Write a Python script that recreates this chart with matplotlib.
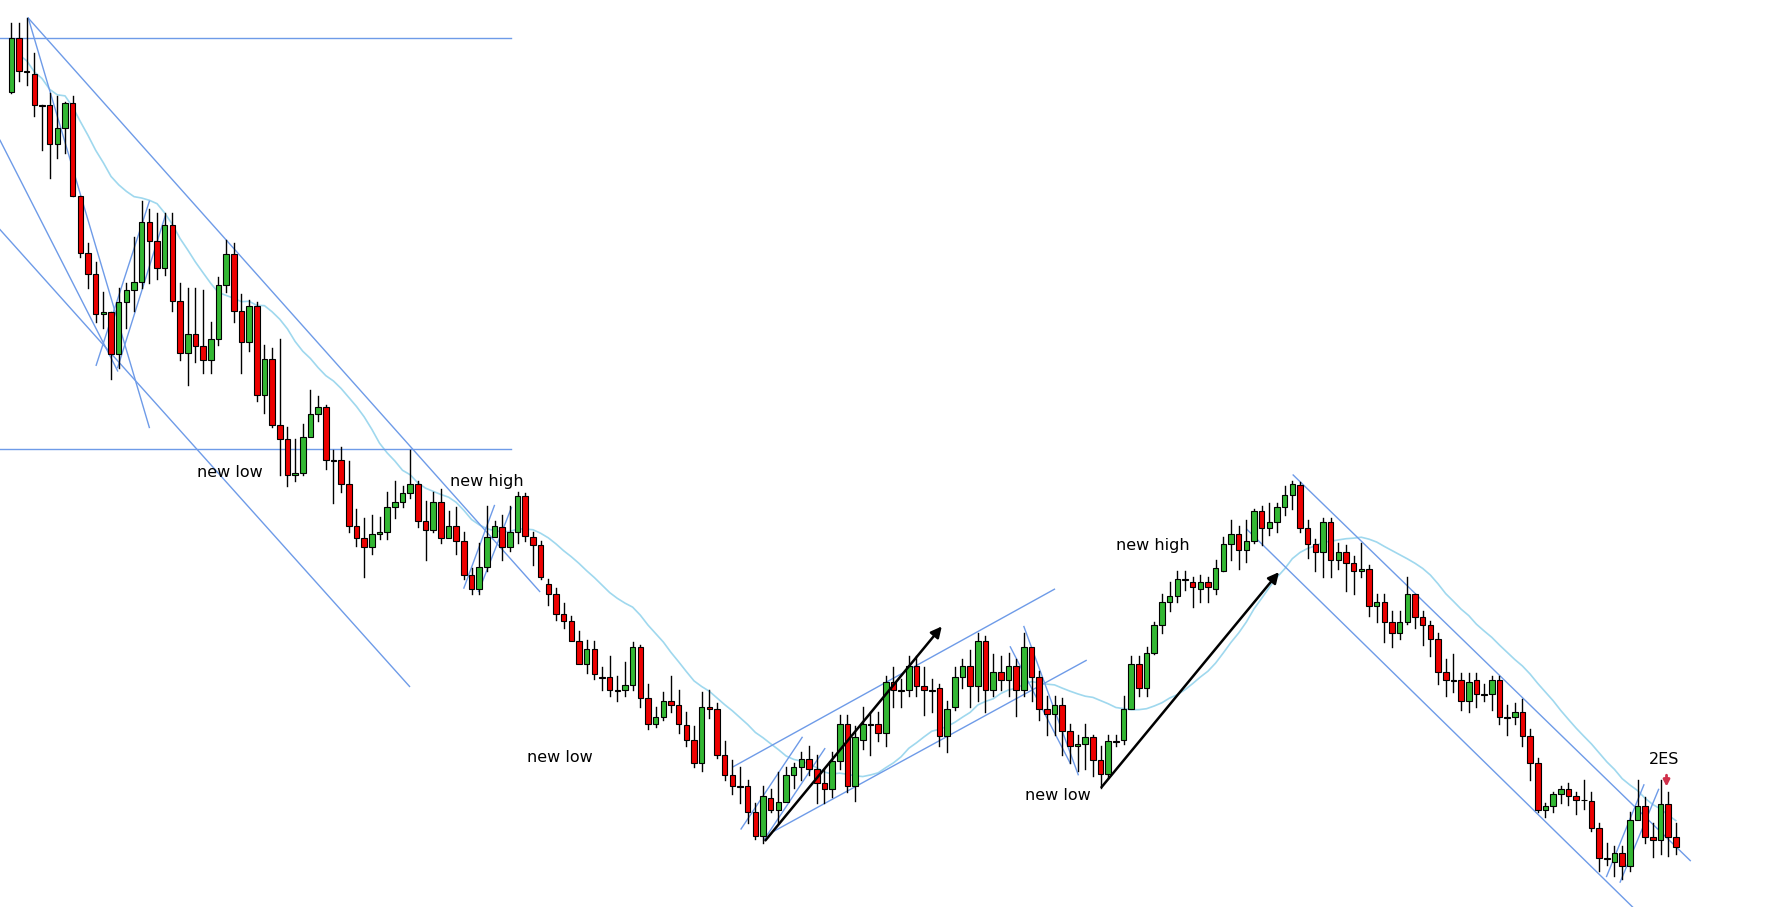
import numpy as np
import pandas as pd
import matplotlib
matplotlib.use("Agg")
import matplotlib.pyplot as plt
from matplotlib.patches import Rectangle

# price values are read in screen units (y grows downward), axis is inverted
opens = [81,34,63,65,93,93,127,113,91,173,224,242,278,276,313,267,256,249,196,213,
         237,199,266,312,295,306,318,300,252,225,275,302,271,349,317,376,388,420,418,386,
         366,360,407,407,428,465,476,484,472,470,448,444,436,428,461,469,444,476,465,478,
         508,521,501,475,466,484,470,439,475,482,516,525,543,549,567,587,574,599,599,610,
         610,606,572,617,640,634,620,623,641,654,675,625,627,668,685,695,695,718,739,706,
         716,709,685,678,671,680,692,698,673,640,695,654,640,640,648,603,610,610,589,607,
         610,608,651,625,599,589,607,567,610,594,601,589,610,572,599,627,631,623,646,660,
         658,652,672,684,655,654,627,587,608,577,553,532,527,512,515,521,515,521,505,481,
         472,486,478,452,467,462,448,438,429,467,481,488,462,495,488,498,505,503,536,532,
         550,560,550,525,546,553,565,594,601,601,620,601,614,614,601,634,634,630,651,675,
         716,713,702,698,704,707,708,732,759,762,754,766,725,713,740,743,711,740]
closes = [34,63,64,93,93,127,113,91,173,224,242,278,276,313,267,256,249,196,213,237,
          199,266,312,295,306,318,300,252,225,275,302,271,349,317,376,388,420,418,386,366,
          360,407,407,428,465,476,484,472,470,448,444,436,428,461,469,444,476,465,478,508,
          521,501,475,465,484,470,439,474,482,510,525,543,549,567,587,574,596,599,610,610,
          606,572,617,640,634,620,623,640,654,675,625,627,668,685,695,695,718,739,704,716,
          709,685,678,671,680,692,698,673,640,695,652,640,640,648,603,610,610,589,607,610,
          610,651,627,599,589,607,567,610,594,601,589,610,572,599,627,631,623,646,660,658,
          652,672,684,655,655,627,587,608,577,553,532,527,512,512,519,515,519,502,481,472,
          486,478,452,467,462,448,438,428,467,481,488,462,495,488,498,505,503,536,532,550,
          560,550,525,546,553,565,594,601,601,620,603,614,614,601,634,634,630,651,675,716,
          713,702,698,704,707,707,732,759,759,754,766,725,713,740,743,711,740,749]
highs = [20,20,16,47,93,82,85,90,85,173,215,232,258,276,255,250,210,178,185,188,
         188,188,250,255,255,256,285,245,212,215,260,265,267,305,308,300,378,388,375,345,
         350,358,398,395,408,450,458,455,457,435,425,430,398,425,443,435,432,452,448,470,
         502,480,447,461,455,447,435,436,470,478,512,520,533,545,558,566,567,590,580,598,
         585,568,570,605,625,612,598,610,630,642,612,610,622,655,672,678,690,710,695,698,
         683,678,675,665,660,668,680,665,632,632,642,625,630,630,598,590,600,580,580,590,
         600,605,620,590,583,575,560,562,578,580,577,583,560,575,593,615,615,617,640,650,
         640,650,660,650,650,615,580,580,572,550,525,515,505,505,510,508,510,495,475,460,
         465,460,450,447,445,445,430,425,426,460,477,458,458,480,482,492,480,500,525,525,
         540,540,510,525,540,549,560,583,578,595,595,595,605,598,598,623,622,618,645,670,
         710,700,695,692,700,690,700,728,745,748,748,718,690,705,728,690,700,728]
lows = [82,72,75,103,133,157,140,135,173,227,255,285,290,335,325,290,275,255,250,247,
        243,275,318,340,320,330,330,305,258,285,330,310,355,365,378,420,430,425,420,385,
        372,415,445,435,470,483,510,490,477,477,458,448,440,466,495,470,480,472,490,512,
        525,525,505,470,495,487,480,478,500,512,535,548,555,560,585,595,600,610,615,620,
        615,610,625,645,643,637,630,648,660,678,682,635,670,690,702,710,728,742,745,718,
        728,705,697,690,685,710,710,705,680,700,708,662,668,655,660,625,625,615,615,632,
        630,660,665,628,608,625,620,630,615,610,615,633,615,620,637,650,650,668,675,682,
        680,686,697,688,660,658,615,615,615,578,560,540,532,522,537,532,532,525,505,495,
        503,497,480,482,473,470,455,450,470,493,505,510,510,503,523,525,510,545,550,568,
        572,565,552,555,570,580,605,615,612,628,630,625,620,628,640,650,640,660,690,718,
        722,718,710,712,720,715,735,770,765,775,777,770,722,745,758,755,757,755]

labels = ["new low", "new high", "new low", "new low", "new high", "2ES"]
label_xy = [(203, 418), (430, 426), (495, 670), (935, 703), (1019, 482), (1471, 672)]

X0, DX = 10, 6.78          # screen x of first candle, candle spacing
W, H = 1568, 802            # screen frame the values were read in


def ix(x):
    return (x - X0) / DX


fig = plt.figure(figsize=(17.74, 9.07), dpi=100)
ax = fig.add_axes([0, 0, 1, 1])
ax.set_xlim(ix(0), ix(W))
ax.set_ylim(H, 0)
ax.axis("off")

# moving average
ma = pd.Series(closes).rolling(20, min_periods=1).mean()
ax.plot(np.arange(1, len(ma)), ma[1:], color="#9fd8ee", lw=1.2, zorder=1)

# trendlines, in screen units
blue = "#6e9be8"
segs = [((0, 34), (452, 34)), ((0, 397), (452, 397)),
        ((25, 16), (477, 523)), ((25, 16), (132, 378)), ((0, 124), (104, 328)),
        ((0, 203), (362, 607)), ((85, 323), (132, 178)), ((104, 325), (146, 191)),
        ((410, 520), (437, 447)), ((423, 523), (452, 449)),
        ((648, 678), (932, 521)), ((684, 735), (960, 584)),
        ((655, 733), (709, 652)), ((675, 743), (729, 662)),
        ((905, 554), (953, 685)), ((893, 572), (946, 675)),
        ((1143, 420), (1494, 761)), ((1102, 468), (1443, 802)),
        ((1420, 775), (1453, 694)), ((1432, 780), (1466, 698))]
for (xa, ya), (xb, yb) in segs:
    ax.plot([ix(xa), ix(xb)], [ya, yb], color=blue, lw=1.0, zorder=2)

# candles
for i, (o, h, l, c) in enumerate(zip(opens, highs, lows, closes)):
    ax.plot([i, i], [h, l], color="black", lw=1.0, zorder=3)
    col = "#33b833" if c < o else "#ee0000"
    top, bot = min(o, c), max(o, c)
    ax.add_patch(Rectangle((i - 0.36, top), 0.72, max(bot - top, 0.8),
                           facecolor=col, edgecolor="black", lw=0.8, zorder=4))

# black arrows
for (xa, ya), (xb, yb) in [((675, 745), (834, 552)), ((972, 698), (1132, 504))]:
    ax.annotate("", xy=(ix(xb), yb), xytext=(ix(xa), ya),
                arrowprops=dict(arrowstyle="-|>", color="black", lw=1.8,
                                mutation_scale=16), zorder=5)
# red arrow
ax.annotate("", xy=(ix(1473), 698), xytext=(ix(1473), 683),
            arrowprops=dict(arrowstyle="-|>", color="#d0304a", lw=2,
                            mutation_scale=9), zorder=5)

for t, (x, y) in zip(labels, label_xy):
    ax.text(ix(x), y, t, fontsize=11.5, ha="center", va="center",
            family="DejaVu Sans", zorder=6)

fig.savefig("out.png", dpi=100)
